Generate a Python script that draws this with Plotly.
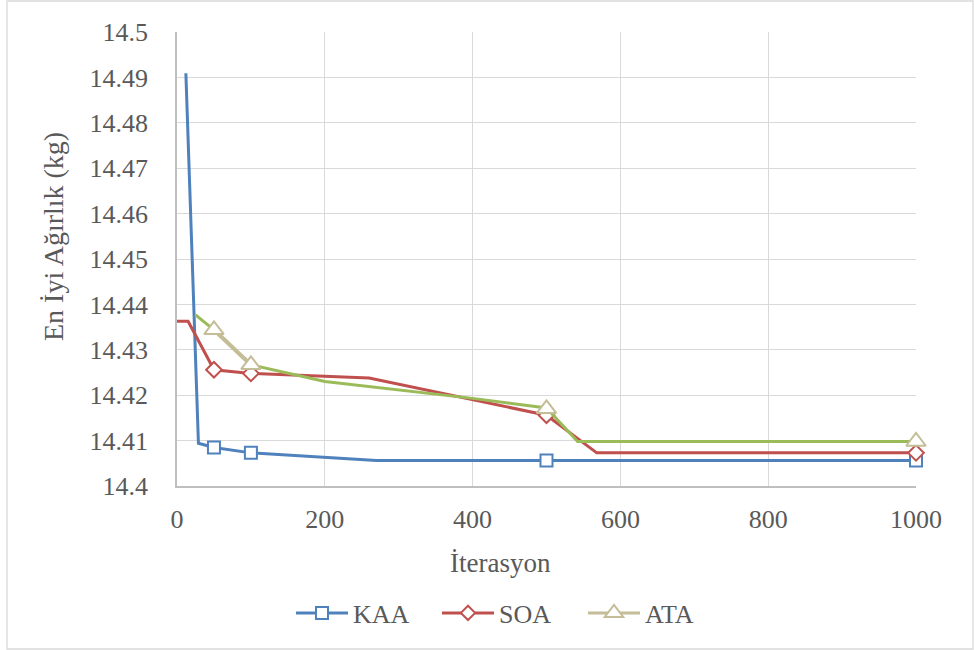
import plotly.graph_objects as go

# ---- data ----
kaa_x = [12, 29, 50, 100, 270, 500, 1000]
kaa_y = [14.4909, 14.4094, 14.4085, 14.4073, 14.4056, 14.4056, 14.4056]
kaa_mx = [50, 100, 500, 1000]
kaa_my = [14.4085, 14.4073, 14.4056, 14.4056]

soa_x = [0, 15, 50, 100, 260, 500, 568, 1000]
soa_y = [14.4363, 14.4363, 14.4256, 14.4248, 14.4238, 14.4156, 14.4073, 14.4073]
soa_mx = [50, 100, 500, 1000]
soa_my = [14.4256, 14.4248, 14.4156, 14.4073]

ata_x = [25, 50, 100, 200, 400, 500, 542, 1000]
ata_y = [14.4377, 14.4344, 14.4267, 14.4230, 14.4193, 14.4172, 14.4098, 14.4098]
ata_mx = [50, 100, 500, 1000]
ata_my = [14.4344, 14.4267, 14.4170, 14.4098]

x_ticks = [0, 200, 400, 600, 800, 1000]
y_ticks = [14.4, 14.41, 14.42, 14.43, 14.44, 14.45, 14.46, 14.47, 14.48, 14.49, 14.5]
y_labels = ["14.4", "14.41", "14.42", "14.43", "14.44", "14.45", "14.46", "14.47", "14.48", "14.49", "14.5"]

BLUE = "#4F81BD"
RED = "#C0504D"
GREEN = "#9BBB59"
TAN = "#C4BD97"
FONT = "Liberation Serif"
TXT = "#595959"

fig = go.Figure()

def markers(x, y, sym, size, color):
    return go.Scatter(x=x, y=y, mode="markers", showlegend=False, cliponaxis=False,
                      marker=dict(symbol=sym, size=size, color="white",
                                  line=dict(color=color, width=2)))

def legend_entry(name, color, sym, size):
    return go.Scatter(x=[None], y=[None], mode="lines+markers", name=name,
                      line=dict(color=color, width=3),
                      marker=dict(symbol=sym, size=size, color="white",
                                  line=dict(color=color, width=2)))

fig.add_trace(go.Scatter(x=kaa_x, y=kaa_y, mode="lines", line=dict(color=BLUE, width=3),
                         showlegend=False, hoverinfo="skip"))
fig.add_trace(markers(kaa_mx, kaa_my, "square", 12, BLUE))
fig.add_trace(go.Scatter(x=soa_x, y=soa_y, mode="lines", line=dict(color=RED, width=3),
                         showlegend=False, hoverinfo="skip"))
fig.add_trace(markers(soa_mx, soa_my, "diamond", 12, RED))
fig.add_trace(go.Scatter(x=ata_x, y=ata_y, mode="lines", line=dict(color=GREEN, width=3),
                         showlegend=False, hoverinfo="skip"))
fig.add_trace(go.Scatter(x=ata_mx[:2], y=ata_my[:2], mode="lines", line=dict(color=TAN, width=4),
                         showlegend=False, hoverinfo="skip"))
fig.add_trace(markers(ata_mx, ata_my, "triangle-up", 17, TAN))

fig.add_trace(legend_entry("KAA", BLUE, "square", 12))
fig.add_trace(legend_entry("SOA", RED, "diamond", 11))
fig.add_trace(legend_entry("ATA", TAN, "triangle-up", 16))

L, R, T, B = 177, 58, 32, 164
W, H = 974, 650
pw, ph = W - L - R, H - T - B

def px(xp):
    return (xp - L) / pw

def py(yp):
    return (H - B - yp) / ph

fig.update_layout(
    template="none",
    width=W, height=H,
    margin=dict(l=L, r=R, t=T, b=B, pad=0),
    paper_bgcolor="white", plot_bgcolor="white",
    font=dict(family=FONT, size=26, color=TXT),
    xaxis=dict(range=[0, 1000], tickvals=x_ticks, ticktext=[str(v) for v in x_ticks],
               showgrid=True, gridcolor="#D9D9D9", gridwidth=1.3,
               showline=True, linecolor="#BFBFBF", linewidth=1.5,
               zeroline=False, ticks="", ticklabelstandoff=9,
               tickfont=dict(family=FONT, size=26, color=TXT)),
    yaxis=dict(range=[14.4, 14.5], tickvals=y_ticks, ticktext=y_labels,
               showgrid=True, gridcolor="#D9D9D9", gridwidth=1.3,
               showline=True, linecolor="#BFBFBF", linewidth=1.5,
               zeroline=False, ticks="", ticklabelstandoff=22,
               tickfont=dict(family=FONT, size=26, color=TXT)),
    legend=dict(orientation="h", x=px(291), xanchor="left", y=py(613), yanchor="middle",
                bgcolor="rgba(0,0,0,0)", font=dict(family=FONT, size=26, color=TXT),
                itemwidth=52, entrywidth=79, entrywidthmode="pixels"),
    showlegend=True,
    annotations=[
        dict(text="İterasyon", xref="paper", yref="paper", x=px(500), y=py(563),
             xanchor="center", yanchor="middle", showarrow=False,
             font=dict(family=FONT, size=27, color=TXT)),
        dict(text="En İyi Ağırlık (kg)", xref="paper", yref="paper", x=px(53), y=py(236),
             xanchor="center", yanchor="middle", showarrow=False, textangle=-90,
             font=dict(family=FONT, size=28, color=TXT)),
    ],
    shapes=[
        dict(type="rect", xref="paper", yref="paper", x0=px(7), x1=px(973), y0=py(649), y1=py(1),
             line=dict(color="#D9D9D9", width=1.3), fillcolor="rgba(0,0,0,0)", layer="below"),
    ],
)

fig.write_html("out.html")
